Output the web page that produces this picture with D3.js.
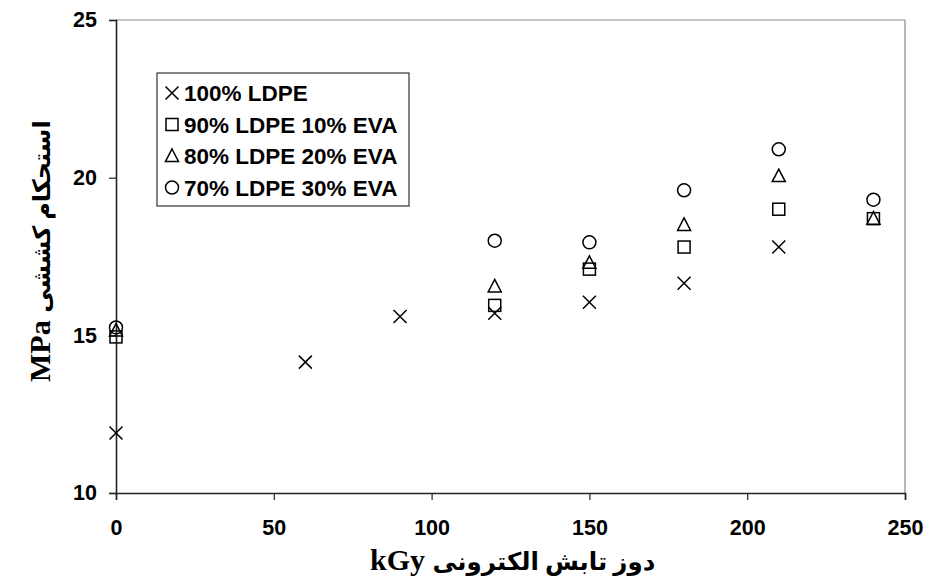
<!DOCTYPE html>
<html>
<head>
<meta charset="utf-8">
<script src="https://cdn.jsdelivr.net/npm/d3@7"></script>
<style>
  body { margin: 0; background: #fff; }
  text { font-family: "Liberation Sans", Arial, sans-serif; font-weight: bold; }
  .title { font-family: "Liberation Serif", "DejaVu Sans", serif; font-weight: bold; }
</style>
</head>
<body>
<div id="chart"></div>
<script>
// dose values (kGy)
var doses = [0, 60, 90, 120, 150, 180, 210, 240];

// tensile strength (MPa), null = no measurement
var ldpe100 = [11.9, 14.15, 15.6, 15.7, 16.05, 16.65, 17.8, null];
var ldpe90eva10 = [14.95, null, null, 15.95, 17.1, 17.8, 19.0, 18.7];
var ldpe80eva20 = [15.15, null, null, 16.55, 17.3, 18.5, 20.05, 18.7];
var ldpe70eva30 = [15.25, null, null, 18.0, 17.95, 19.6, 20.9, 19.3];

var seriesNames = ["100% LDPE", "90% LDPE 10% EVA", "80% LDPE 20% EVA", "70% LDPE 30% EVA"];
var seriesShapes = ["cross", "square", "triangle", "circle"];
var xTicks = [0, 50, 100, 150, 200, 250];
var yTicks = [10, 15, 20, 25];

var allSeries = [ldpe100, ldpe90eva10, ldpe80eva20, ldpe70eva30];

var width = 929, height = 582;
var margin = { top: 20, right: 24, bottom: 89, left: 116 };
var w = width - margin.left - margin.right;
var h = height - margin.top - margin.bottom;

var svg = d3.select("#chart")
  .append("svg")
    .attr("width", width)
    .attr("height", height);

var g = svg.append("g")
    .attr("transform", "translate(" + margin.left + "," + margin.top + ")");

var x = d3.scaleLinear().domain([0, 250]).range([0, w]);
var y = d3.scaleLinear().domain([10, 25]).range([h, 0]);

// frame: gray top/right
g.append("line").attr("x1", 0).attr("x2", w).attr("y1", 0).attr("y2", 0)
  .attr("stroke", "#888").attr("stroke-width", 1.2);
g.append("line").attr("x1", w).attr("x2", w).attr("y1", 0).attr("y2", h)
  .attr("stroke", "#888").attr("stroke-width", 1.2);

// x axis
var xAxis = g.append("g")
  .attr("transform", "translate(0," + h + ")")
  .call(d3.axisBottom(x).tickValues(xTicks).tickSize(7).tickPadding(20));
// y axis
var yAxis = g.append("g")
  .call(d3.axisLeft(y).tickValues(yTicks).tickSize(7).tickPadding(12));

[xAxis, yAxis].forEach(function(a) {
  a.select(".domain").attr("stroke", "#222").attr("stroke-width", 1.6);
  a.selectAll(".tick line").attr("stroke", "#222").attr("stroke-width", 1.2);
  a.selectAll(".tick text").attr("font-size", 21.5).attr("fill", "#000")
    .style("font-family", "'Liberation Sans', Arial, sans-serif").style("font-weight", "bold");
});

// marker drawing
function drawMarker(sel, shape) {
  var s = 6.5;
  if (shape === "cross") {
    sel.append("path").attr("d", "M" + -s + "," + -s + "L" + s + "," + s + "M" + s + "," + -s + "L" + -s + "," + s);
  } else if (shape === "square") {
    sel.append("rect").attr("x", -6).attr("y", -6).attr("width", 12).attr("height", 12);
  } else if (shape === "triangle") {
    sel.append("path").attr("d", "M0,-7L6.5,5.5L-6.5,5.5Z");
  } else {
    sel.append("circle").attr("r", 6.5);
  }
  sel.selectAll("*").attr("fill", "none").attr("stroke", "#000").attr("stroke-width", 1.5);
}

allSeries.forEach(function(vals, i) {
  var pts = doses.map(function(d, j) { return { dose: d, v: vals[j] }; })
    .filter(function(p) { return p.v !== null; });
  g.append("g").selectAll("g")
    .data(pts)
    .enter()
    .append("g")
      .attr("transform", function(p) { return "translate(" + x(p.dose) + "," + y(p.v) + ")"; })
      .each(function() { drawMarker(d3.select(this), seriesShapes[i]); });
});

// legend
var legend = svg.append("g").attr("transform", "translate(157,73)");
legend.append("rect").attr("width", 252).attr("height", 133)
  .attr("fill", "#fff").attr("stroke", "#333").attr("stroke-width", 1.2);
seriesNames.forEach(function(name, i) {
  var row = legend.append("g").attr("transform", "translate(0," + (20 + i * 31.5) + ")");
  drawMarker(row.append("g").attr("transform", "translate(15,0)"), seriesShapes[i]);
  row.append("text").attr("x", 27).attr("y", 8).attr("font-size", 22.5).text(name);
});

// axis titles
var xt = svg.append("text").attr("class", "title")
  .attr("x", 370).attr("y", 570);
xt.append("tspan").attr("font-size", 30).text("kGy ");
xt.append("tspan").attr("font-size", 24.5).text("دوز تابش الکترونی");

var yt = svg.append("text").attr("class", "title")
  .attr("transform", "translate(50,382) rotate(-90)");
yt.append("tspan").attr("font-size", 30).text("MPa ");
yt.append("tspan").attr("font-size", 24).text("استحکام کششی");
</script>
</body>
</html>
